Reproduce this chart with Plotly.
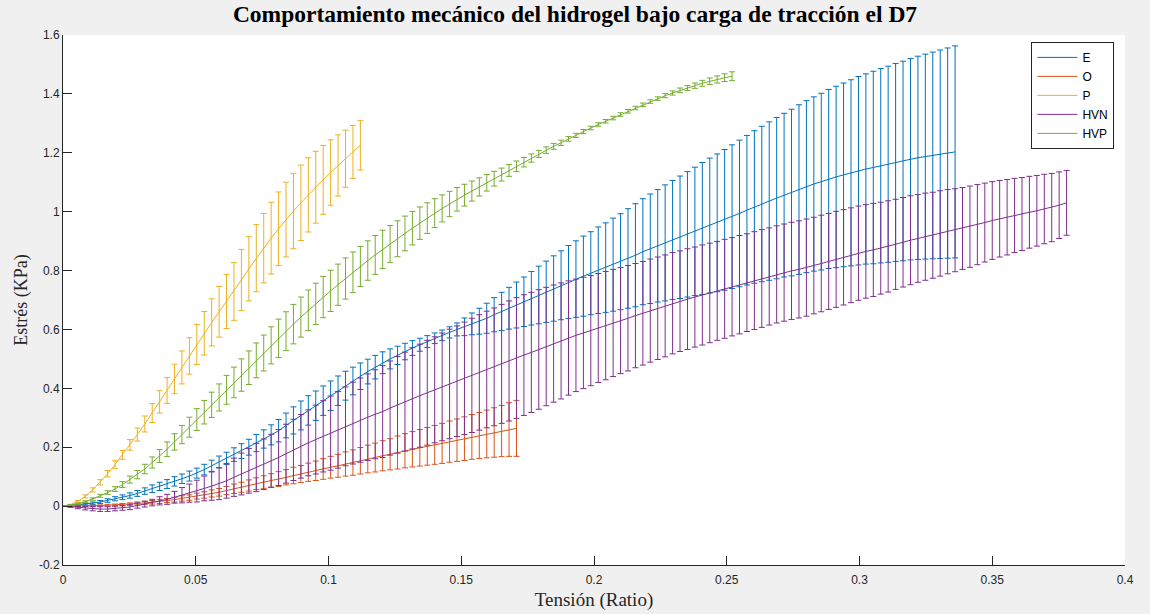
import plotly.graph_objects as go

# ---------------- data ----------------
tension = [
    0, 0.0028, 0.0056, 0.0084, 0.0112, 0.014, 0.0168, 0.0196, 0.0224, 0.0252,
    0.028, 0.0308, 0.0336, 0.0364, 0.0392, 0.042, 0.0448, 0.0476, 0.0504, 0.0532,
    0.056, 0.0588, 0.0616, 0.0644, 0.0672, 0.07, 0.0728, 0.0756, 0.0784, 0.0812,
    0.084, 0.0868, 0.0896, 0.0924, 0.0952, 0.098, 0.1008, 0.1036, 0.1064, 0.1092,
    0.112, 0.1148, 0.1176, 0.1204, 0.1232, 0.126, 0.1288, 0.1316, 0.1344, 0.1372,
    0.14, 0.1428, 0.1456, 0.1484, 0.1512, 0.154, 0.1568, 0.1596, 0.1624, 0.1652,
    0.168, 0.1708, 0.1736, 0.1764, 0.1792, 0.182, 0.1848, 0.1876, 0.1904, 0.1932,
    0.196, 0.1988, 0.2016, 0.2044, 0.2072, 0.21, 0.2128, 0.2156, 0.2184, 0.2212,
    0.224, 0.2268, 0.2296, 0.2324, 0.2352, 0.238, 0.2408, 0.2436, 0.2464, 0.2492,
    0.252, 0.2548, 0.2576, 0.2604, 0.2632, 0.266, 0.2688, 0.2716, 0.2744, 0.2772,
    0.28, 0.2828, 0.2856, 0.2884, 0.2912, 0.294, 0.2968, 0.2996, 0.3024, 0.3052,
    0.308, 0.3108, 0.3136, 0.3164, 0.3192, 0.322, 0.3248, 0.3276, 0.3304, 0.3332,
    0.336, 0.3388, 0.3416, 0.3444, 0.3472, 0.35, 0.3528, 0.3556, 0.3584, 0.3612,
    0.364, 0.3668, 0.3696, 0.3724, 0.3752, 0.378,
]

E_mean = [
    0, 0.002, 0.004, 0.007, 0.01, 0.014, 0.019, 0.025, 0.03, 0.036,
    0.043, 0.051, 0.059, 0.067, 0.075, 0.084, 0.093, 0.102, 0.112, 0.124,
    0.137, 0.15, 0.162, 0.175, 0.187, 0.2, 0.214, 0.228, 0.242, 0.256,
    0.274, 0.291, 0.308, 0.325, 0.341, 0.358, 0.375, 0.392, 0.409, 0.425,
    0.441, 0.457, 0.472, 0.487, 0.5, 0.512, 0.525, 0.537, 0.548, 0.559,
    0.57, 0.58, 0.59, 0.6, 0.609, 0.619, 0.628, 0.638, 0.65, 0.661,
    0.672, 0.683, 0.694, 0.706, 0.717, 0.728, 0.739, 0.75, 0.761, 0.771,
    0.781, 0.791, 0.801, 0.81, 0.82, 0.83, 0.841, 0.852, 0.864, 0.874,
    0.884, 0.894, 0.904, 0.913, 0.923, 0.933, 0.943, 0.953, 0.962, 0.972,
    0.983, 0.994, 1.005, 1.016, 1.026, 1.036, 1.046, 1.056, 1.065, 1.075,
    1.085, 1.094, 1.102, 1.111, 1.118, 1.125, 1.132, 1.139, 1.145, 1.15,
    1.156, 1.161, 1.167, 1.172, 1.178, 1.183, 1.187, 1.191, 1.195, 1.199,
    1.203,
]
E_err = [
    0, 0.001, 0.002, 0.003, 0.004, 0.005, 0.006, 0.007, 0.008, 0.009,
    0.01, 0.011, 0.013, 0.014, 0.015, 0.016, 0.016, 0.017, 0.017, 0.018,
    0.019, 0.02, 0.021, 0.023, 0.025, 0.027, 0.029, 0.031, 0.034, 0.038,
    0.042, 0.046, 0.049, 0.05, 0.05, 0.05, 0.05, 0.05, 0.049, 0.047,
    0.045, 0.042, 0.04, 0.037, 0.034, 0.031, 0.028, 0.025, 0.022, 0.02,
    0.018, 0.018, 0.019, 0.022, 0.03, 0.037, 0.044, 0.051, 0.058, 0.065,
    0.071, 0.078, 0.084, 0.091, 0.098, 0.104, 0.111, 0.117, 0.124, 0.13,
    0.136, 0.141, 0.147, 0.152, 0.158, 0.163, 0.169, 0.175, 0.18, 0.186,
    0.191, 0.197, 0.202, 0.208, 0.213, 0.218, 0.224, 0.229, 0.234, 0.239,
    0.244, 0.249, 0.254, 0.259, 0.264, 0.269, 0.274, 0.278, 0.283, 0.288,
    0.292, 0.296, 0.3, 0.304, 0.308, 0.312, 0.316, 0.32, 0.323, 0.327,
    0.33, 0.333, 0.336, 0.339, 0.342, 0.345, 0.348, 0.351, 0.354, 0.357,
    0.36,
]

O_mean = [
    0, 0.0, 0.0, 0.001, 0.001, 0.002, 0.003, 0.004, 0.005, 0.007,
    0.009, 0.011, 0.013, 0.016, 0.019, 0.022, 0.026, 0.029, 0.034, 0.038,
    0.043, 0.047, 0.053, 0.059, 0.064, 0.07, 0.076, 0.081, 0.087, 0.092,
    0.098, 0.104, 0.109, 0.115, 0.12, 0.126, 0.132, 0.137, 0.143, 0.148,
    0.154, 0.16, 0.165, 0.171, 0.176, 0.182, 0.188, 0.193, 0.198, 0.203,
    0.208, 0.213, 0.219, 0.224, 0.229, 0.235, 0.24, 0.245, 0.25, 0.255,
    0.26, 0.264,
]
O_err = [
    0, 0, 0.001, 0.001, 0.002, 0.002, 0.003, 0.003, 0.004, 0.004,
    0.005, 0.005, 0.006, 0.007, 0.007, 0.008, 0.009, 0.009, 0.01, 0.011,
    0.012, 0.013, 0.014, 0.016, 0.017, 0.019, 0.02, 0.022, 0.023, 0.025,
    0.026, 0.028, 0.029, 0.031, 0.033, 0.035, 0.037, 0.039, 0.041, 0.043,
    0.045, 0.047, 0.049, 0.051, 0.053, 0.056, 0.058, 0.06, 0.062, 0.064,
    0.066, 0.068, 0.07, 0.072, 0.074, 0.076, 0.078, 0.081, 0.084, 0.087,
    0.091, 0.095,
]

P_mean = [
    0, 0.005, 0.016, 0.033, 0.055, 0.081, 0.11, 0.141, 0.174, 0.208,
    0.243, 0.279, 0.316, 0.354, 0.393, 0.432, 0.471, 0.51, 0.549, 0.587,
    0.624, 0.66, 0.695, 0.729, 0.768, 0.806, 0.842, 0.876, 0.91, 0.942,
    0.973, 1.002, 1.03, 1.057, 1.083, 1.108, 1.133, 1.157, 1.18, 1.203,
    1.225,
]
P_err = [
    0, 0.001, 0.003, 0.005, 0.007, 0.009, 0.011, 0.013, 0.015, 0.018,
    0.022, 0.027, 0.032, 0.038, 0.044, 0.05, 0.056, 0.062, 0.068, 0.074,
    0.08, 0.086, 0.092, 0.098, 0.104, 0.109, 0.114, 0.118, 0.122, 0.125,
    0.127, 0.128, 0.128, 0.126, 0.122, 0.117, 0.111, 0.104, 0.097, 0.09,
    0.084,
]

HVN_mean = [
    0, -0.002, -0.005, -0.007, -0.009, -0.01, -0.01, -0.008, -0.006, -0.003,
    0.002, 0.007, 0.012, 0.018, 0.023, 0.03, 0.037, 0.044, 0.051, 0.06,
    0.068, 0.076, 0.086, 0.098, 0.109, 0.12, 0.131, 0.142, 0.154, 0.165,
    0.178, 0.191, 0.203, 0.215, 0.226, 0.237, 0.248, 0.259, 0.271, 0.282,
    0.292, 0.302, 0.312, 0.321, 0.333, 0.344, 0.355, 0.366, 0.375, 0.385,
    0.395, 0.405, 0.415, 0.424, 0.434, 0.444, 0.454, 0.464, 0.473, 0.483,
    0.493, 0.503, 0.513, 0.522, 0.532, 0.542, 0.552, 0.561, 0.571, 0.58,
    0.588, 0.596, 0.605, 0.613, 0.622, 0.63, 0.638, 0.647, 0.655, 0.664,
    0.672, 0.68, 0.689, 0.696, 0.703, 0.71, 0.717, 0.724, 0.731, 0.738,
    0.745, 0.752, 0.759, 0.766, 0.773, 0.78, 0.787, 0.793, 0.799, 0.804,
    0.81, 0.817, 0.824, 0.831, 0.838, 0.845, 0.852, 0.859, 0.865, 0.87,
    0.876, 0.882, 0.889, 0.896, 0.903, 0.909, 0.915, 0.92, 0.926, 0.932,
    0.937, 0.943, 0.949, 0.956, 0.963, 0.97, 0.976, 0.981, 0.987, 0.992,
    0.998, 1.003, 1.009, 1.014, 1.022, 1.03,
]
HVN_err = [
    0, 0.002, 0.004, 0.006, 0.007, 0.008, 0.008, 0.008, 0.008, 0.009,
    0.009, 0.01, 0.011, 0.014, 0.017, 0.02, 0.026, 0.031, 0.037, 0.042,
    0.048, 0.054, 0.059, 0.065, 0.071, 0.076, 0.082, 0.086, 0.09, 0.095,
    0.1, 0.104, 0.108, 0.112, 0.117, 0.121, 0.126, 0.13, 0.134, 0.139,
    0.143, 0.147, 0.151, 0.156, 0.16, 0.164, 0.168, 0.172, 0.175, 0.178,
    0.18, 0.183, 0.186, 0.188, 0.191, 0.194, 0.196, 0.198, 0.2, 0.202,
    0.204, 0.205, 0.205, 0.204, 0.203, 0.201, 0.199, 0.197, 0.194, 0.191,
    0.189, 0.187, 0.185, 0.184, 0.182, 0.18, 0.179, 0.177, 0.176, 0.175,
    0.174, 0.173, 0.172, 0.171, 0.171, 0.17, 0.17, 0.169, 0.168, 0.168,
    0.167, 0.167, 0.166, 0.166, 0.166, 0.165, 0.165, 0.165, 0.165, 0.165,
    0.165, 0.164, 0.164, 0.163, 0.163, 0.162, 0.161, 0.16, 0.159, 0.158,
    0.156, 0.155, 0.153, 0.152, 0.151, 0.149, 0.148, 0.146, 0.145, 0.143,
    0.141, 0.139, 0.138, 0.136, 0.134, 0.132, 0.13, 0.128, 0.126, 0.124,
    0.122, 0.12, 0.118, 0.116, 0.113, 0.11,
]

HVP_mean = [
    0, 0.003, 0.008, 0.015, 0.024, 0.035, 0.046, 0.058, 0.073, 0.09,
    0.107, 0.126, 0.148, 0.17, 0.193, 0.218, 0.243, 0.268, 0.294, 0.319,
    0.344, 0.369, 0.395, 0.42, 0.445, 0.47, 0.495, 0.52, 0.546, 0.57,
    0.594, 0.618, 0.642, 0.665, 0.687, 0.71, 0.731, 0.752, 0.773, 0.794,
    0.814, 0.834, 0.853, 0.872, 0.89, 0.908, 0.926, 0.944, 0.961, 0.978,
    0.995, 1.011, 1.026, 1.042, 1.056, 1.07, 1.084, 1.098, 1.112, 1.126,
    1.14, 1.154, 1.168, 1.182, 1.196, 1.209, 1.222, 1.234, 1.247, 1.259,
    1.272, 1.284, 1.296, 1.307, 1.318, 1.33, 1.341, 1.352, 1.363, 1.374,
    1.384, 1.394, 1.403, 1.412, 1.42, 1.428, 1.436, 1.443, 1.449, 1.455,
    1.46,
]
HVP_err = [
    0, 0.001, 0.002, 0.003, 0.004, 0.005, 0.006, 0.008, 0.01, 0.012,
    0.014, 0.016, 0.019, 0.022, 0.025, 0.028, 0.031, 0.034, 0.037, 0.04,
    0.043, 0.046, 0.049, 0.052, 0.055, 0.057, 0.059, 0.061, 0.063, 0.065,
    0.066, 0.067, 0.068, 0.069, 0.07, 0.07, 0.07, 0.07, 0.07, 0.069,
    0.068, 0.067, 0.066, 0.065, 0.063, 0.061, 0.059, 0.057, 0.055, 0.052,
    0.049, 0.046, 0.043, 0.04, 0.037, 0.034, 0.031, 0.028, 0.025, 0.022,
    0.02, 0.018, 0.016, 0.014, 0.012, 0.011, 0.01, 0.009, 0.008, 0.007,
    0.007, 0.006, 0.006, 0.006, 0.006, 0.006, 0.006, 0.006, 0.006, 0.006,
    0.006, 0.007, 0.007, 0.008, 0.008, 0.009, 0.01, 0.011, 0.012, 0.013,
    0.015,
]

series_names = ["E", "O", "P", "HVN", "HVP"]
series_means = [E_mean, O_mean, P_mean, HVN_mean, HVP_mean]
series_errs = [E_err, O_err, P_err, HVN_err, HVP_err]
series_colors = ["#0072BD", "#D95319", "#EDB120", "#7E2F8E", "#77AC30"]

x_tickvals = [0, 0.05, 0.1, 0.15, 0.2, 0.25, 0.3, 0.35, 0.4]
x_ticktext = ["0", "0.05", "0.1", "0.15", "0.2", "0.25", "0.3", "0.35", "0.4"]
y_tickvals = [-0.2, 0, 0.2, 0.4, 0.6, 0.8, 1.0, 1.2, 1.4, 1.6]
y_ticktext = ["-0.2", "0", "0.2", "0.4", "0.6", "0.8", "1", "1.2", "1.4", "1.6"]

# ---------------- figure ----------------
fig = go.Figure()
for name, ym, ye, col in zip(series_names, series_means, series_errs, series_colors):
    n = len(ym)
    fig.add_trace(go.Scatter(
        x=tension[:n], y=ym, name=name, mode="lines",
        line=dict(color=col, width=1),
        error_y=dict(type="data", array=ye, symmetric=True, visible=True,
                     color=col, thickness=1, width=3),
    ))

axis_col = "#262626"
serif = "Liberation Serif, Times New Roman, serif"
sans = "Liberation Sans, Arial, sans-serif"
fig.update_layout(
    width=1150, height=614,
    paper_bgcolor="#F0F0F0", plot_bgcolor="#FFFFFF",
    margin=dict(l=63, r=25, t=35, b=49),
    title=dict(text="<b>Comportamiento mecánico del hidrogel bajo carga de tracción el D7</b>",
               font=dict(family=serif, size=23.5, color="#000000"),
               x=0.5, xanchor="center", y=0.977, yanchor="middle", yref="container"),
    showlegend=True,
    legend=dict(x=0.99, xanchor="right", y=0.987, yanchor="top",
                bgcolor="#FFFFFF", bordercolor=axis_col, borderwidth=1,
                font=dict(family=sans, size=12, color="#000000"),
                tracegroupgap=0, itemwidth=40),
    font=dict(family=sans, size=12, color=axis_col),
)
fig.update_xaxes(
    range=[0, 0.4], tickvals=x_tickvals, ticktext=x_ticktext,
    showline=True, linecolor=axis_col, linewidth=1, mirror=False,
    ticks="inside", ticklen=9, tickcolor=axis_col, tickwidth=1,
    ticklabelstandoff=4, automargin=False,
    showgrid=False, zeroline=False,
    tickfont=dict(family=sans, size=12, color=axis_col),
    title=dict(text="Tensión (Ratio)", standoff=6,
               font=dict(family=serif, size=19, color=axis_col)),
)
fig.update_yaxes(
    range=[-0.2, 1.6], tickvals=y_tickvals, ticktext=y_ticktext,
    showline=True, linecolor=axis_col, linewidth=1, mirror=False,
    ticks="inside", ticklen=9, tickcolor=axis_col, tickwidth=1,
    automargin=False,
    showgrid=False, zeroline=False,
    tickfont=dict(family=sans, size=12, color=axis_col),
    title=dict(text="Estrés (KPa)", standoff=6,
               font=dict(family=serif, size=18, color=axis_col)),
)

fig.write_html("out.html", config={"displayModeBar": False},
               post_script="document.body.style.margin='0';document.body.style.padding='0';")
